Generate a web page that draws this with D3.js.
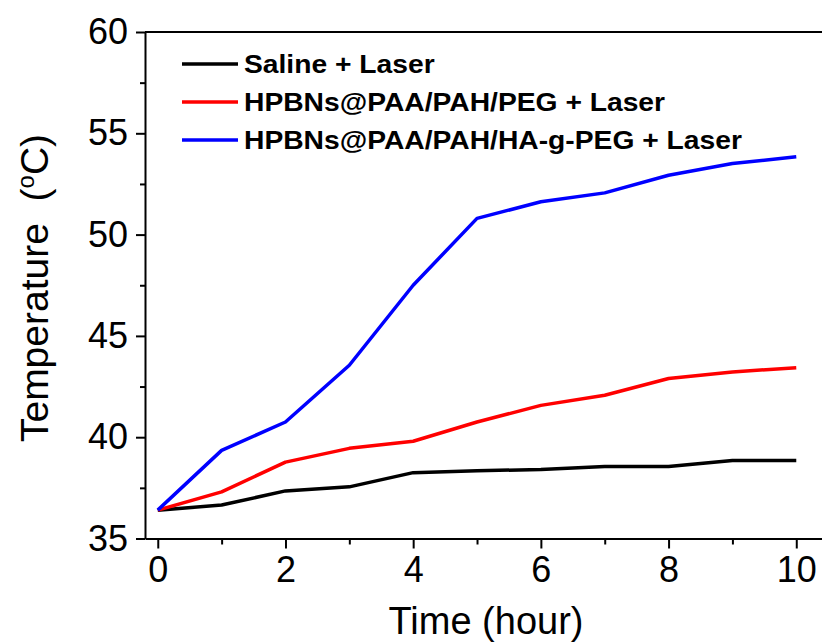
<!DOCTYPE html>
<html>
<head>
<meta charset="utf-8">
<script src="https://cdn.jsdelivr.net/npm/d3@7"></script>
<style>
  body { margin: 0; background: #fff; }
  svg { display: block; font-family: Arial, 'Liberation Sans', sans-serif; }
</style>
</head>
<body>
<div id="chart"></div>
<script>
// data
const hours = [0, 1, 2, 3, 4, 5, 6, 7, 8, 9, 10]
const saline = [36.4, 36.65, 37.35, 37.55, 38.25, 38.35, 38.4, 38.55, 38.55, 38.85, 38.85]
const pegGroup = [36.4, 37.3, 38.77, 39.45, 39.8, 40.75, 41.57, 42.07, 42.9, 43.22, 43.43]
const haGroup = [36.4, 39.35, 40.75, 43.55, 47.5, 50.8, 51.62, 52.06, 52.93, 53.51, 53.84]
const seriesNames = ['Saline + Laser', 'HPBNs@PAA/PAH/PEG + Laser', 'HPBNs@PAA/PAH/HA-g-PEG + Laser']
const seriesColors = ['#000000', '#ff0000', '#0000ff']
const xTicks = [0, 2, 4, 6, 8, 10]
const yTicks = [35, 40, 45, 50, 55, 60]

const W = 822
const H = 644
const m = { t: 32, l: 145 }
const plotBottom = 538.5

const svg = d3.select('#chart').append('svg')
  .attr('width', W).attr('height', H)

const x = d3.scaleLinear().domain([-0.2, 10.5]).range([m.l, m.l + 10.7 * 63.85])
const y = d3.scaleLinear().domain([35, 60]).range([plotBottom, m.t])

// frame: top line (right side runs past the edge)
svg.append('line')
  .attr('x1', m.l).attr('x2', x(10.5))
  .attr('y1', m.t).attr('y2', m.t)
  .attr('stroke', '#000').attr('stroke-width', 2)

// bottom axis
const xAxis = svg.append('g')
  .attr('transform', 'translate(0,' + plotBottom + ')')
  .call(d3.axisBottom(x).tickValues(xTicks).tickSize(10).tickPadding(8).tickSizeOuter(0))
xAxis.select('.domain').attr('stroke-width', 2)
xAxis.selectAll('.tick line').attr('stroke-width', 2)
xAxis.selectAll('text').attr('font-size', 36).attr('fill', '#000')
  .attr('font-family', 'Arial, Liberation Sans, sans-serif')

svg.append('g')
  .attr('transform', 'translate(0,' + plotBottom + ')')
  .call(d3.axisBottom(x).tickValues([1, 3, 5, 7, 9]).tickSize(6).tickFormat('').tickSizeOuter(0))
  .call(g => g.select('.domain').remove())
  .selectAll('.tick line').attr('stroke-width', 2)

// left axis
const yAxis = svg.append('g')
  .attr('transform', 'translate(' + m.l + ',0)')
  .call(d3.axisLeft(y).tickValues(yTicks).tickSize(9).tickPadding(8).tickSizeOuter(0))
yAxis.select('.domain').attr('stroke-width', 2)
yAxis.selectAll('.tick line').attr('stroke-width', 2)
yAxis.selectAll('text').attr('font-size', 36).attr('fill', '#000')
  .attr('font-family', 'Arial, Liberation Sans, sans-serif')

svg.append('g')
  .attr('transform', 'translate(' + m.l + ',0)')
  .call(d3.axisLeft(y).tickValues([37.5, 42.5, 47.5, 52.5, 57.5]).tickSize(5).tickFormat('').tickSizeOuter(0))
  .call(g => g.select('.domain').remove())
  .selectAll('.tick line').attr('stroke-width', 2)

// lines
const line = d3.line()
  .x((d, i) => x(hours[i]))
  .y(d => y(d))

const allSeries = [saline, pegGroup, haGroup]
svg.selectAll('.series').data(allSeries).enter()
  .append('path').attr('class', 'series')
  .attr('d', line)
  .attr('fill', 'none')
  .attr('stroke', (d, i) => seriesColors[i])
  .attr('stroke-width', 3.5)
  .attr('stroke-linejoin', 'round')

// legend (text is a little wider than normal in the original)
const legRows = [64, 102, 140]
const leg = svg.selectAll('.leg').data(seriesNames).enter()
  .append('g').attr('class', 'leg')
  .attr('transform', (d, i) => 'translate(0,' + legRows[i] + ')')
leg.append('line')
  .attr('x1', 182).attr('x2', 238)
  .attr('stroke', (d, i) => seriesColors[i])
  .attr('stroke-width', 3.5)
leg.append('text')
  .attr('transform', 'translate(244,9) scale(1.13,1)')
  .attr('font-size', 25).attr('font-weight', 'bold')
  .text(d => d)

// axis titles
svg.append('text')
  .attr('x', 486).attr('y', 634)
  .attr('text-anchor', 'middle')
  .attr('font-size', 38)
  .text('Time (hour)')

const yt = svg.append('text')
  .attr('transform', 'translate(48,288) rotate(-90)')
  .attr('text-anchor', 'middle')
  .attr('font-size', 39)
yt.append('tspan').text('Temperature\u00a0\u00a0(')
yt.append('tspan').attr('font-size', 24).attr('dy', -14).text('o')
yt.append('tspan').attr('dy', 14).text('C)')
</script>
</body>
</html>
